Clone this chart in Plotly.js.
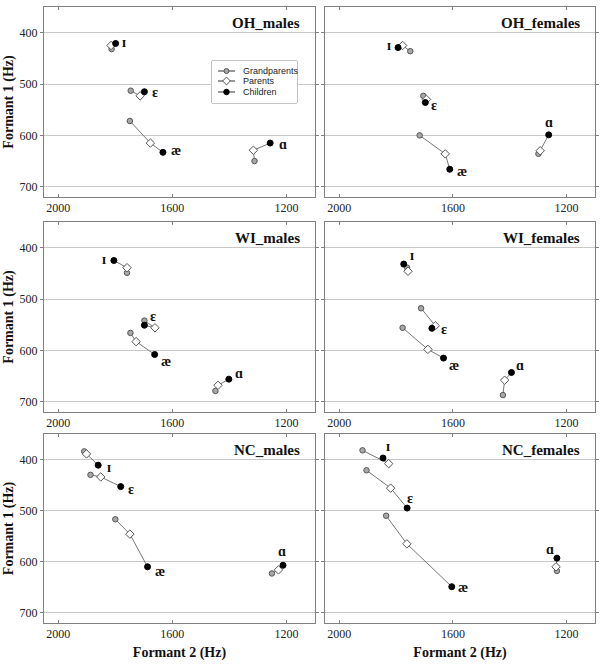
<!DOCTYPE html>
<html>
<head>
<meta charset="utf-8">
<script src="https://cdn.plot.ly/plotly-3.0.1.min.js"></script>
<style>html,body{margin:0;padding:0;background:#fff;}#chart{width:603px;height:666px;}</style>
</head>
<body>
<div id="chart"></div>
<script>
// ---- data ----
const vowels = ['ɪ', 'ɛ', 'æ', 'ɑ'];
const panelNames = ['OH_males', 'OH_females', 'WI_males', 'WI_females', 'NC_males', 'NC_females'];
const groups = ['Grandparents', 'Parents', 'Children'];
const xTicks = [2000, 1600, 1200];
const yTicks = [400, 500, 600, 700];

// F2 / F1 per panel, vowel order: ɪ, ɛ, æ, ɑ
const OH_males_G_F2 = [1813, 1746, 1749, 1312];
const OH_males_G_F1 = [432, 513, 572, 650];
const OH_males_P_F2 = [1815, 1713, 1677, 1316];
const OH_males_P_F1 = [425, 523, 615, 629];
const OH_males_C_F2 = [1799, 1698, 1633, 1257];
const OH_males_C_F1 = [421, 515, 633, 615];

const OH_females_G_F2 = [1750, 1704, 1717, 1299];
const OH_females_G_F1 = [436, 523, 600, 636];
const OH_females_P_F2 = [1777, 1693, 1627, 1293];
const OH_females_P_F1 = [425, 530, 636, 630];
const OH_females_C_F2 = [1793, 1697, 1611, 1263];
const OH_females_C_F1 = [429, 536, 666, 599];

const WI_males_G_F2 = [1759, 1698, 1747, 1449];
const WI_males_G_F1 = [449, 542, 566, 679];
const WI_males_P_F2 = [1759, 1661, 1727, 1440];
const WI_males_P_F1 = [439, 556, 583, 668];
const WI_males_C_F2 = [1805, 1698, 1662, 1402];
const WI_males_C_F1 = [425, 551, 608, 656];

const WI_females_G_F2 = [1761, 1712, 1777, 1424];
const WI_females_G_F1 = [439, 518, 556, 687];
const WI_females_P_F2 = [1758, 1662, 1688, 1418];
const WI_females_P_F1 = [446, 552, 598, 658];
const WI_females_C_F2 = [1773, 1674, 1633, 1394];
const WI_females_C_F1 = [432, 557, 615, 643];

const NC_males_G_F2 = [1909, 1887, 1800, 1251];
const NC_males_G_F1 = [384, 430, 517, 623];
const NC_males_P_F2 = [1901, 1851, 1749, 1228];
const NC_males_P_F1 = [389, 434, 546, 616];
const NC_males_C_F2 = [1860, 1781, 1687, 1212];
const NC_males_C_F1 = [411, 453, 610, 607];

const NC_females_G_F2 = [1918, 1904, 1835, 1234];
const NC_females_G_F1 = [382, 421, 510, 618];
const NC_females_P_F2 = [1826, 1819, 1762, 1237];
const NC_females_P_F1 = [408, 456, 565, 610];
const NC_females_C_F2 = [1846, 1761, 1604, 1234];
const NC_females_C_F1 = [397, 495, 649, 593];

const panelData = [
  {G: [OH_males_G_F2, OH_males_G_F1], P: [OH_males_P_F2, OH_males_P_F1], C: [OH_males_C_F2, OH_males_C_F1]},
  {G: [OH_females_G_F2, OH_females_G_F1], P: [OH_females_P_F2, OH_females_P_F1], C: [OH_females_C_F2, OH_females_C_F1]},
  {G: [WI_males_G_F2, WI_males_G_F1], P: [WI_males_P_F2, WI_males_P_F1], C: [WI_males_C_F2, WI_males_C_F1]},
  {G: [WI_females_G_F2, WI_females_G_F1], P: [WI_females_P_F2, WI_females_P_F1], C: [WI_females_C_F2, WI_females_C_F1]},
  {G: [NC_males_G_F2, NC_males_G_F1], P: [NC_males_P_F2, NC_males_P_F1], C: [NC_males_C_F2, NC_males_C_F1]},
  {G: [NC_females_G_F2, NC_females_G_F1], P: [NC_females_P_F2, NC_females_P_F1], C: [NC_females_C_F2, NC_females_C_F1]}
];

// vowel label pixel offsets relative to the Children point [dx, dy(down)]
const labelOffsets = [
  [[8, -1], [11, 1], [13, -2], [13, 1]],
  [[-9, -2], [9, 3], [12, 2], [0, -12]],
  [[-10, -1], [9, -9], [11, 7], [10, -6]],
  [[8, -9], [12, 1], [10, 7], [9, -7]],
  [[11, 2], [10, 3], [12, 5], [-1, -14]],
  [[5, -12], [3, -10], [11, 1], [-7, -9]]
];

// ---- layout geometry ----
const xDomains = [[0, 0.4918], [0.51, 1.0]];
const yDomains = [[0.6916, 1.0], [0.3425, 0.651], [0, 0.3068]];
const legendDomainX = [0.3049, 0.4592];
const legendDomainY = [0.8442, 0.9123];

const serif = 'Liberation Serif, DejaVu Serif, serif';
const sans = 'Liberation Sans, Arial, sans-serif';

const markerStyles = {
  G: {symbol: 'circle', size: 5.5, color: '#a8a8a8', line: {color: '#555', width: 1}},
  P: {symbol: 'diamond', size: 6.5, color: '#ffffff', line: {color: '#555', width: 1}},
  C: {symbol: 'circle', size: 6, color: '#000000', line: {color: '#000', width: 1}}
};
const groupKeys = ['G', 'P', 'C'];

const traces = [];
const annotations = [];
const shapes = [];
const layout = {
  width: 603, height: 666,
  margin: {l: 44, r: 8, t: 7, b: 43},
  paper_bgcolor: '#fff', plot_bgcolor: '#fff',
  showlegend: false,
  font: {family: serif, color: '#222'}
};

panelData.forEach((pd, i) => {
  const sfx = i === 0 ? '' : String(i + 1);
  const xa = 'x' + sfx, ya = 'y' + sfx;
  const col = i % 2, row = Math.floor(i / 2);

  vowels.forEach((v, k) => {
    traces.push({
      type: 'scatter', mode: 'lines', xaxis: xa, yaxis: ya,
      x: [pd.G[0][k], pd.P[0][k], pd.C[0][k]],
      y: [pd.G[1][k], pd.P[1][k], pd.C[1][k]],
      line: {color: '#777', width: 1}, hoverinfo: 'skip'
    });
  });
  groupKeys.forEach((g, gi) => {
    traces.push({
      type: 'scatter', mode: 'markers', xaxis: xa, yaxis: ya,
      x: pd[g][0], y: pd[g][1], name: groups[gi],
      marker: markerStyles[g]
    });
  });
  vowels.forEach((v, k) => {
    annotations.push({
      xref: xa, yref: ya, x: pd.C[0][k], y: pd.C[1][k],
      text: '<b>' + v + '</b>', showarrow: false,
      xshift: labelOffsets[i][k][0], yshift: -labelOffsets[i][k][1],
      font: {family: serif, size: 14, color: '#111'}
    });
  });
  annotations.push({
    xref: xa + ' domain', yref: ya + ' domain', x: 1, y: 1,
    xanchor: 'right', yanchor: 'top', xshift: -13, yshift: -6,
    text: '<b>' + panelNames[i] + '</b>', showarrow: false,
    font: {family: serif, size: 15, color: '#111'}
  });

  layout['xaxis' + sfx] = {
    domain: xDomains[col], anchor: ya, range: [2050, 1100],
    tickvals: xTicks, ticktext: xTicks.map(String),
    showgrid: false, zeroline: false,
    showline: true, linecolor: '#808080', linewidth: 1, mirror: 'ticks',
    ticks: 'inside', ticklen: 3, tickcolor: '#808080',
    tickfont: {family: serif, size: 12, color: '#222'},
    title: row === 2 ? {text: '<b>Formant 2 (Hz)</b>', font: {family: serif, size: 14, color: '#111'}, standoff: 6} : {text: ''}
  };
  layout['yaxis' + sfx] = {
    domain: yDomains[row], anchor: xa, range: [720, 350],
    tickvals: yTicks, ticktext: yTicks.map(String),
    showgrid: true, gridcolor: '#c8c8c8', gridwidth: 1, zeroline: false,
    showline: true, linecolor: '#808080', linewidth: 1, mirror: 'ticks',
    ticks: 'outside', ticklen: 3, tickcolor: '#808080',
    showticklabels: col === 0,
    tickfont: {family: serif, size: 12, color: '#222'},
    title: col === 0 ? {text: '<b>Formant 1 (Hz)</b>', font: {family: serif, size: 14, color: '#111'}, standoff: 2} : {text: ''}
  };
});

// ---- custom legend box (its own small axis, in pixel-like units) ----
const legendRowsY = [32, 22, 11];
layout.xaxis7 = {domain: legendDomainX, anchor: 'y7', range: [0, 85], visible: false, fixedrange: true};
layout.yaxis7 = {domain: legendDomainY, anchor: 'x7', range: [0, 42], visible: false, fixedrange: true};
shapes.push({type: 'rect', xref: 'x7 domain', yref: 'y7 domain', x0: 0, x1: 1, y0: 0, y1: 1,
  line: {color: '#888', width: 1}, fillcolor: '#fff', layer: 'below'});
groupKeys.forEach((g, gi) => {
  traces.push({
    type: 'scatter', mode: 'lines', xaxis: 'x7', yaxis: 'y7',
    x: [6, 23], y: [legendRowsY[gi], legendRowsY[gi]],
    line: {color: '#333', width: 1}, hoverinfo: 'skip'
  });
  traces.push({
    type: 'scatter', mode: 'markers', xaxis: 'x7', yaxis: 'y7',
    x: [14.5], y: [legendRowsY[gi]],
    marker: Object.assign({}, markerStyles[g], {size: markerStyles[g].size - 0.5}), hoverinfo: 'skip'
  });
  annotations.push({
    xref: 'x7', yref: 'y7', x: 29, y: legendRowsY[gi], xanchor: 'left', yanchor: 'middle',
    text: groups[gi], showarrow: false,
    font: {family: sans, size: 9, color: '#222'}
  });
});

layout.annotations = annotations;
layout.shapes = shapes;

Plotly.newPlot('chart', traces, layout, {displayModeBar: false, staticPlot: true});
</script>
</body>
</html>
